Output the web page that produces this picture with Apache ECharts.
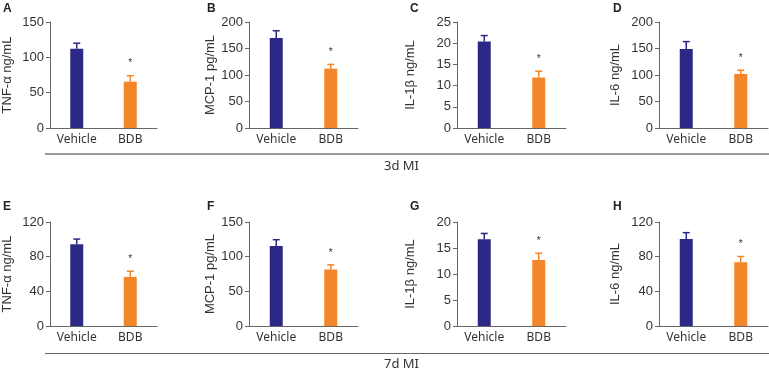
<!DOCTYPE html>
<html>
<head>
<meta charset="utf-8">
<script src="https://cdn.jsdelivr.net/npm/echarts@6/dist/echarts.min.js"></script>
<style>
  html, body { margin: 0; padding: 0; background: #fff; }
  #chart { width: 769px; height: 371px; }
</style>
</head>
<body>
<div id="chart"></div>
<script>
// categories and panels
const groups = ["Vehicle", "BDB"];
const panelLetters3d = ["A", "B", "C", "D"];
const panelLetters7d = ["E", "F", "G", "H"];
const axisNames = ["TNF-α ng/mL", "MCP-1 pg/mL", "IL-1β ng/mL", "IL-6 ng/mL"];

// 3d MI values (mean and upper error)
const vehicle3d = [112, 170, 20.4, 149];
const vehicleErr3d = [8, 13.5, 1.4, 14];
const bdb3d = [65.5, 112, 11.9, 102];
const bdbErr3d = [8.5, 8, 1.5, 7];

// 7d MI values
const vehicle7d = [94.3, 115.5, 16.7, 100.4];
const vehicleErr7d = [6, 9, 1.1, 7.3];
const bdb7d = [56.7, 81.5, 12.7, 73.6];
const bdbErr7d = [6.5, 6.7, 1.3, 6.6];

// y axis ranges
const yMax3d = [150, 200, 25, 200];
const yStep3d = [50, 50, 5, 50];
const yMax7d = [120, 150, 20, 120];
const yStep7d = [40, 50, 5, 40];

// which group gets a significance star
const starred = [false, true];

const colors = ["#2c2886", "#f4862a"];
const gridLefts = [48, 249, 457, 659];
const nameGaps = [36, 32, 40, 37];
const letterX = [3, 207, 410, 613];

const chart = echarts.init(document.getElementById("chart"));

const grids = [], xAxes = [], yAxes = [], series = [];

function addPanel(row, i, veh, vehErr, bdb, bdbErr, yMax, yStep) {
  const idx = grids.length;
  grids.push({
    left: gridLefts[i],
    top: row === 0 ? 22 : 222,
    width: 109,
    height: row === 0 ? 106 : 104,
  });
  xAxes.push({
    type: "category",
    gridIndex: idx,
    data: groups,
    axisLine: {lineStyle: {color: "#666", width: 1}},
    axisTick: {alignWithLabel: true, length: 4, lineStyle: {color: "#666"}},
    axisLabel: {color: "#333", fontSize: 12, fontFamily: "Noto Sans", margin: 6},
  });
  yAxes.push({
    type: "value",
    gridIndex: idx,
    min: 0,
    max: yMax,
    interval: yStep,
    name: axisNames[i],
    nameLocation: "middle",
    nameGap: nameGaps[i],
    nameTextStyle: {color: "#333", fontSize: 13, fontFamily: "Liberation Sans"},
    axisLine: {show: true, lineStyle: {color: "#666", width: 1}},
    axisTick: {show: true, length: 4, lineStyle: {color: "#666"}},
    axisLabel: {color: "#333", fontSize: 13, fontFamily: "Liberation Sans", margin: 6},
    splitLine: {show: false},
  });
  series.push({
    type: "bar",
    xAxisIndex: idx,
    yAxisIndex: idx,
    barWidth: 13,
    data: [
      {value: veh, itemStyle: {color: colors[0]}},
      {value: bdb, itemStyle: {color: colors[1]}},
    ],
  });
  // error bars (upper only) and stars
  series.push({
    type: "custom",
    xAxisIndex: idx,
    yAxisIndex: idx,
    z: 3,
    data: [[0, veh, vehErr], [1, bdb, bdbErr]],
    renderItem: function (params, api) {
      const k = params.dataIndex;
      const base = api.coord([api.value(0), api.value(1)]);
      const top = api.coord([api.value(0), api.value(1) + api.value(2)]);
      const style = {stroke: colors[k], lineWidth: 1.5};
      const children = [
        {type: "line", shape: {x1: base[0], y1: base[1], x2: top[0], y2: top[1]}, style: style},
        {type: "line", shape: {x1: top[0] - 3.5, y1: top[1], x2: top[0] + 3.5, y2: top[1]}, style: style},
      ];
      if (starred[k]) {
        children.push({
          type: "text",
          style: {
            text: "*",
            x: top[0],
            y: top[1] - 12,
            align: "center",
            verticalAlign: "middle",
            fontSize: 10,
            fontFamily: "Liberation Sans",
            fill: "#333",
          },
        });
      }
      return {type: "group", children: children};
    },
  });
}

for (let i = 0; i < 4; i++) {
  addPanel(0, i, vehicle3d[i], vehicleErr3d[i], bdb3d[i], bdbErr3d[i], yMax3d[i], yStep3d[i]);
}
for (let i = 0; i < 4; i++) {
  addPanel(1, i, vehicle7d[i], vehicleErr7d[i], bdb7d[i], bdbErr7d[i], yMax7d[i], yStep7d[i]);
}

const graphics = [];
const letterStyle = {fontSize: 12, fontWeight: "bold", fontFamily: "Liberation Sans", fill: "#222"};
panelLetters3d.forEach((l, i) => {
  graphics.push({type: "text", left: letterX[i], top: 3, style: Object.assign({text: l}, letterStyle)});
});
panelLetters7d.forEach((l, i) => {
  graphics.push({type: "text", left: letterX[i], top: 201, style: Object.assign({text: l}, letterStyle)});
});
// group separators
graphics.push({type: "line", shape: {x1: 45, y1: 154, x2: 769, y2: 154}, style: {stroke: "#9a9a9a", lineWidth: 2}});
graphics.push({type: "line", shape: {x1: 45, y1: 353.5, x2: 769, y2: 353.5}, style: {stroke: "#666", lineWidth: 1}});
graphics.push({type: "text", left: 384, top: 160, style: {text: "3d MI", fontSize: 13, fontFamily: "Noto Sans", fill: "#333"}});
graphics.push({type: "text", left: 384, top: 358, style: {text: "7d MI", fontSize: 13, fontFamily: "Noto Sans", fill: "#333"}});

chart.setOption({
  animation: false,
  backgroundColor: "#fff",
  grid: grids,
  xAxis: xAxes,
  yAxis: yAxes,
  series: series,
  graphic: graphics,
});
</script>
</body>
</html>
